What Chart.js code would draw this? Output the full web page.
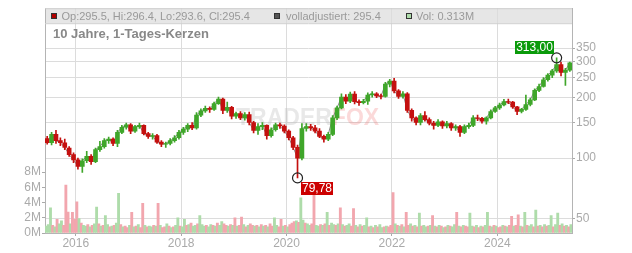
<!DOCTYPE html>
<html><head><meta charset="utf-8">
<script src="https://cdn.jsdelivr.net/npm/chart.js@4.4.1/dist/chart.umd.min.js"></script>
<style>html,body{margin:0;padding:0;background:#fff}canvas{display:block}</style>
</head><body>
<canvas id="c" width="632" height="253"></canvas>
<script>
// ---- DATA (monthly candles, June 2015 .. May 2025) ----
const startYear = 2015, startMonth = 6;
const opens  = [125,119,131,122,119,112,104,98,91,97,102,96,
                110,114,122,124,118,134,142,146,136,143,145,132,
                128,129,120,117,118,122,126,134,139,145,141,163,
                171,176,174,186,196,172,178,161,166,158,164,150,
                137,143,145,129,138,146,144,136,126,113,100,140,
                143,141,136,128,124,131,158,177,200,191,207,190,
                188,191,205,208,203,202,232,240,215,202,208,172,
                158,150,162,155,149,145,151,144,148,141,143,134,
                143,145,158,157,152,158,170,177,183,190,189,179,
                170,174,184,194,216,226,244,257,270,290,265,272];
const highs  = [128,134,137,126,124,114,106,100,99,108,104,112,
                121,125,127,126,137,145,149,148,145,149,146,134,
                132,131,122,120,125,129,137,142,148,150,168,175,
                181,179,189,200,198,189,180,169,170,168,169,152,
                148,150,146,141,149,149,146,138,128,116,148,148,
                147,145,140,130,134,162,181,208,206,212,213,194,
                195,210,213,211,207,237,245,248,218,213,211,175,
                160,166,170,158,152,155,153,152,150,146,145,146,
                149,162,163,159,160,173,180,187,195,196,191,180,
                176,205,198,220,232,250,262,275,313,298,278,298];
const lows   = [117,116,118,115,110,102,95,88,85,95,93,95,
                108,112,118,115,114,132,139,132,134,140,130,125,
                124,118,114,113,116,120,124,131,135,138,139,160,
                168,168,172,184,166,168,156,157,155,154,146,133,
                131,138,124,127,136,140,133,123,110,79.78,98,136,
                137,133,126,120,122,129,155,175,186,188,185,182,
                185,184,200,199,196,200,225,210,197,198,168,152,
                146,146,152,146,139,143,140,141,137,137,128,132,
                140,143,153,149,147,156,168,174,181,186,176,164,
                167,172,181,192,213,224,240,250,265,255,229,268];
const closes = [119,131,122,119,113,104,98,91,97,102,96,110,
                114,122,124,118,134,142,146,136,143,145,132,128,
                129,120,117,118,122,126,134,139,145,141,163,171,
                176,174,186,196,172,178,161,166,158,164,150,137,
                143,145,129,138,146,144,136,126,113,100,140,143,
                141,136,128,124,131,158,177,200,191,207,190,188,
                191,205,208,203,202,232,240,215,202,208,172,158,
                150,162,155,149,145,151,144,148,141,143,134,143,
                145,158,157,152,158,170,177,183,190,189,179,170,
                174,184,194,216,226,244,257,270,290,265,272,295.4];
// volume in millions, half-month periods
const volM = [0.9,1.1,3.3,1.0,0.8,1.8,1.2,1.6,1.0,6.3,2.75,1.2,2.7,1.8,4.1,1.9,1.3,1.0,0.9,1.1,0.8,1.0,1.2,3.4,
              1.2,0.9,1.0,2.3,1.1,0.8,0.9,1.0,1.3,5.2,1.1,0.8,0.9,0.7,1.0,2.7,0.8,0.9,1.1,0.7,3.9,1.0,0.8,0.9,
              0.8,1.0,0.9,3.9,1.0,0.7,0.8,1.2,0.9,0.7,0.8,1.0,2.0,0.9,0.8,1.8,1.0,1.1,1.3,0.9,1.0,1.2,2.3,1.1,
              0.9,1.0,0.8,1.1,1.0,0.9,1.3,1.0,1.5,1.2,1.0,0.9,1.1,1.0,2.0,0.9,1.0,2.1,1.1,0.8,1.0,1.2,1.0,0.9,
              1.0,0.8,1.1,0.9,1.0,0.8,1.2,0.9,2.0,1.0,0.8,1.8,0.9,1.0,0.8,1.1,1.3,1.5,1.6,1.4,4.6,1.7,1.3,1.2,
              1.0,1.2,5.2,1.0,0.9,1.1,1.0,1.2,2.7,1.0,1.3,1.1,1.0,1.2,3.3,1.1,0.9,1.0,1.2,0.9,3.2,1.0,0.8,1.1,
              0.9,1.0,2.0,0.8,0.9,0.7,1.0,0.8,1.1,0.7,0.8,0.9,0.8,1.0,5.3,1.2,1.0,0.9,1.1,0.8,2.7,1.0,1.2,0.9,
              1.0,0.8,2.6,0.9,1.0,0.8,0.9,1.0,2.3,0.9,0.8,1.0,0.9,0.7,0.8,1.0,0.9,0.8,1.1,2.7,0.9,0.8,1.0,0.9,
              0.8,2.6,0.9,0.8,1.0,0.7,0.9,0.8,1.0,2.7,0.9,0.8,1.0,0.9,0.7,0.8,1.0,0.9,0.8,1.0,2.2,0.9,1.0,2.4,
              0.9,0.8,2.7,1.0,0.9,1.1,0.8,3.0,0.9,1.0,0.8,1.1,0.9,1.0,2.3,0.8,1.1,2.6,1.0,1.2,0.9,1.0,0.8,1.1];
const volDir = "gggrgrggrrrgrrrgrggrgrgg" + "rgrggrgrggrgrrgrgrgrrgrg" + "grgrgrrgrgrggrggrgrggrgg" +
               "grggrgrggrrgrgrgrrgrgrrg" + "rgrgrgrrggrrgrgrrrgrggrg" + "grrggrgrgrggrgrgrggrrgrg" +
               "rggrgrgrggrgrrrgrgrgrrgr" + "grgrggrgrgrgrgrgrggrgrgr" + "rggrgrgrggrgrgrrgrgrrgrr" +
               "grgrggrgrgrgrggrggrgrgrg";
const yearTicks  = [2016, 2018, 2020, 2022, 2024];
const priceTicks = [50, 100, 150, 200, 250, 300, 350];
const volTicks   = [0, 2, 4, 6, 8];
const headerVals = {op: '295.5', hi: '296.4', lo: '293.6', cl: '295.4', adj: '295.4', vol: '0.313M'};
const titleText = '10 Jahre, 1-Tages-Kerzen';

// ---- build datasets ----
const FONT = '"Liberation Sans", Arial, sans-serif';
Chart.defaults.font.family = FONT;
const UP = '#3fa62a', DOWN = '#c4100f';
const VUP = '#aedcaa', VDOWN = '#f2a6ae';
const monthX = opens.map((_, m) => startYear + (startMonth - 1 + m + 0.5) / 12);
const volX = volM.map((_, h) => startYear + (startMonth - 1 + h / 2 + 0.25) / 12);
const candleCol = opens.map((o, i) => closes[i] >= o ? UP : DOWN);
const xMin = startYear + (startMonth - 1) / 12;
const xMax = xMin + opens.length / 12;

const wicks = monthX.map((x, i) => ({x, y: [lows[i], highs[i]]}));
const bodies = monthX.map((x, i) => ({x, y: [Math.min(opens[i], closes[i]), Math.max(opens[i], closes[i]) + 0.0001]}));
const adjLine = monthX.map((x, i) => ({x, y: closes[i]}));
const vols = volX.map((x, i) => ({x, y: volM[i]}));

const deco = {
  id: 'deco',
  beforeDraw(chart) {
    const {ctx, chartArea: a} = chart;
    ctx.save();
    ctx.fillStyle = '#e6e6e6';
    ctx.fillRect(a.left, a.top, a.right - a.left, 15);
    ctx.restore();
  },
  beforeDatasetsDraw(chart) {
    const {ctx} = chart;
    ctx.save();
    ctx.font = 'bold 23px ' + FONT;
    ctx.textBaseline = 'alphabetic';
    ctx.fillStyle = 'rgba(185,185,185,0.33)';
    ctx.fillText('TRADER', 236, 124.5);
    const w = ctx.measureText('TRADER').width;
    ctx.fillStyle = 'rgba(240,105,105,0.25)';
    ctx.fillText('FOX', 236 + w, 124.5);
    ctx.restore();
  },
  afterDraw(chart) {
    const {ctx, chartArea: a, scales} = chart;
    ctx.save();
    // header frame
    ctx.strokeStyle = '#cfcfcf';
    ctx.lineWidth = 1;
    ctx.beginPath();
    ctx.moveTo(a.left, a.top + 0.5); ctx.lineTo(a.right, a.top + 0.5);
    ctx.moveTo(a.left, a.top + 15.5); ctx.lineTo(a.right, a.top + 15.5);
    ctx.stroke();
    // legend squares
    const sq = (x, fill) => {
      ctx.fillStyle = fill; ctx.fillRect(x, 13, 6, 6);
      ctx.strokeStyle = '#333'; ctx.strokeRect(x + 0.5, 13.5, 5, 5);
    };
    ctx.font = '11px ' + FONT;
    ctx.textBaseline = 'alphabetic';
    sq(51, '#b00000');
    ctx.fillStyle = '#999';
    ctx.fillText(`Op:${headerVals.op}, Hi:${headerVals.hi}, Lo:${headerVals.lo}, Cl:${headerVals.cl}`, 61.5, 19.5);
    sq(274, '#555');
    ctx.fillStyle = '#999';
    ctx.fillText(`volladjustiert: ${headerVals.adj}`, 286, 19.5);
    sq(406, VUP);
    ctx.fillStyle = '#999';
    ctx.fillText(`Vol: ${headerVals.vol}`, 416, 19.5);
    // title
    ctx.font = 'bold 13px ' + FONT;
    ctx.fillStyle = '#888';
    ctx.fillText(titleText, 53, 37.7);
    // high / low markers
    const xs = scales.x, ys = scales.y;
    let hi = 0, lo = 0;
    highs.forEach((v, i) => { if (v > highs[hi]) hi = i; });
    lows.forEach((v, i) => { if (v < lows[lo]) lo = i; });
    const mark = (i, val, col, above) => {
      const cx = xs.getPixelForValue(monthX[i]);
      const cy = ys.getPixelForValue(val);
      ctx.strokeStyle = '#222'; ctx.lineWidth = 1.2;
      ctx.beginPath(); ctx.arc(cx, cy, 5, 0, Math.PI * 2); ctx.stroke();
      const txt = val.toFixed(2).replace('.', ',');
      ctx.font = '12px ' + FONT;
      const tw = ctx.measureText(txt).width + 2;
      const bx = above ? cx - 3 - tw : cx + 3;
      const by = above ? cy - 4 - 13 : cy + 4.5;
      ctx.fillStyle = col; ctx.fillRect(Math.round(bx), Math.round(by), Math.round(tw), 13);
      ctx.fillStyle = '#fff'; ctx.textAlign = 'center'; ctx.textBaseline = 'middle';
      ctx.fillText(txt, Math.round(bx) + Math.round(tw) / 2, Math.round(by) + 7);
      ctx.textAlign = 'left'; ctx.textBaseline = 'alphabetic';
    };
    mark(hi, highs[hi], '#0a9a0a', true);
    mark(lo, lows[lo], '#cc0000', false);
    ctx.restore();
  }
};

new Chart(document.getElementById('c'), {
  type: 'bar',
  data: {
    datasets: [
      {type: 'bar', data: bodies, backgroundColor: candleCol, barThickness: 4, grouped: false, order: 1, yAxisID: 'y'},
      {type: 'bar', data: wicks, backgroundColor: candleCol, barThickness: 1, grouped: false, order: 2, yAxisID: 'y'},
      {type: 'line', data: adjLine, borderColor: '#8a8a8a', borderWidth: 1, pointRadius: 0, order: 3, yAxisID: 'y'},
      {type: 'bar', data: vols, backgroundColor: volM.map((_, i) => volDir[i] === 'g' ? VUP : VDOWN),
       barThickness: 2.2, grouped: false, order: 4, yAxisID: 'yv'}
    ]
  },
  options: {
    responsive: false, animation: false, devicePixelRatio: 1,
    layout: {padding: {top: 8}},
    plugins: {legend: {display: false}, tooltip: {enabled: false}},
    scales: {
      x: {
        type: 'linear', min: xMin, max: xMax, bounds: 'data', offset: false,
        afterBuildTicks: s => { s.ticks = yearTicks.map(v => ({value: v})); },
        afterFit: s => { s.height = 20; },
        ticks: {color: '#aaa', font: {size: 12}, padding: 0, autoSkip: false, maxRotation: 0, callback: v => String(v)},
        grid: {color: '#dcdcdc', tickColor: '#aaa', tickLength: 3, offset: false},
        border: {display: true, color: '#b4b4b4'}
      },
      y: {
        type: 'logarithmic', position: 'right', min: 42.6, max: 551, bounds: 'data',
        afterBuildTicks: s => { s.ticks = priceTicks.map(v => ({value: v})); },
        afterFit: s => { s.width = 60; },
        ticks: {color: '#aaa', font: {size: 12}, padding: 1, autoSkip: false, callback: v => String(v)},
        grid: {color: '#dcdcdc', tickColor: '#aaa', tickLength: 3},
        border: {display: true, color: '#b4b4b4'}
      },
      yv: {
        type: 'linear', position: 'left', min: 0, max: 29.5, bounds: 'data',
        afterBuildTicks: s => { s.ticks = volTicks.map(v => ({value: v})); },
        afterFit: s => { s.width = 45; },
        ticks: {color: '#aaa', font: {size: 12}, padding: 1, autoSkip: false, callback: v => v + 'M'},
        grid: {drawOnChartArea: false, tickColor: '#aaa', tickLength: 3},
        border: {display: true, color: '#b4b4b4'}
      }
    }
  },
  plugins: [deco]
});
</script>
</body></html>
